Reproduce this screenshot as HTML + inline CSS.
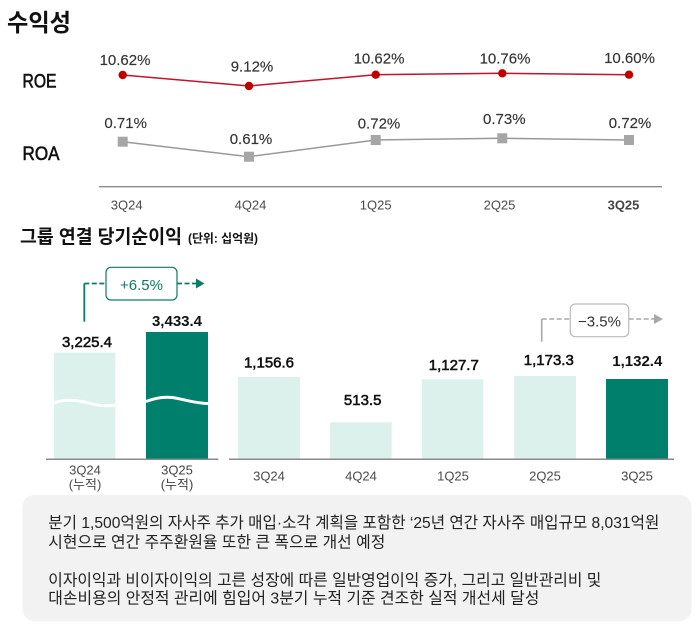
<!DOCTYPE html>
<html><head><meta charset="utf-8"><style>
html,body{margin:0;padding:0;background:#fff;}
svg{display:block;}
text{font-family:"Liberation Sans","Noto Sans CJK KR",sans-serif;}
</style></head><body>
<svg width="696" height="629" viewBox="0 0 696 629" xmlns="http://www.w3.org/2000/svg">
<rect width="696" height="629" fill="#fff"/>
<!-- Title -->
<text x="7" y="31" font-size="24" font-weight="bold" fill="#111" textLength="64" lengthAdjust="spacingAndGlyphs">수익성</text>

<text x="22.5" y="87.3" font-size="19" fill="#111" stroke="#111" stroke-width="0.6" textLength="34" lengthAdjust="spacingAndGlyphs">ROE</text>
<text x="22.5" y="160" font-size="19" fill="#111" stroke="#111" stroke-width="0.6" textLength="37" lengthAdjust="spacingAndGlyphs">ROA</text>

<!-- ROE line -->
<polyline points="122.7,75 249,86 375.7,74.7 502.3,73.3 629,74.7" fill="none" stroke="#c3112e" stroke-width="1.5"/>
<g fill="#c00000">
<circle cx="122.7" cy="75" r="4.2"/><circle cx="249" cy="86" r="4.2"/><circle cx="375.7" cy="74.7" r="4.2"/><circle cx="502.3" cy="73.3" r="4.2"/><circle cx="629" cy="74.7" r="4.2"/>
</g>
<g font-size="15" fill="#333" stroke="#333" stroke-width="0.15" text-anchor="middle">
<text x="125" y="65">10.62%</text>
<text x="252" y="71.7">9.12%</text>
<text x="379" y="63.3">10.62%</text>
<text x="505" y="63.3">10.76%</text>
<text x="629.5" y="63">10.60%</text>
</g>

<!-- ROA line -->
<polyline points="122.7,141.7 249,156.7 375.7,140 502.3,138.3 629,140" fill="none" stroke="#999" stroke-width="1.5"/>
<g fill="#a6a6a6">
<rect x="117.7" y="136.7" width="10" height="10"/><rect x="244" y="151.7" width="10" height="10"/><rect x="370.7" y="135" width="10" height="10"/><rect x="497.3" y="133.3" width="10" height="10"/><rect x="624" y="135" width="10" height="10"/>
</g>
<g font-size="15" fill="#333" stroke="#333" stroke-width="0.15" text-anchor="middle">
<text x="125.7" y="128">0.71%</text>
<text x="251" y="144">0.61%</text>
<text x="379" y="128.3">0.72%</text>
<text x="504.3" y="124">0.73%</text>
<text x="630" y="128">0.72%</text>
</g>

<line x1="99" y1="186.7" x2="662" y2="186.7" stroke="#8a8a8a" stroke-width="1.3"/>
<g font-size="13" fill="#4a4a4a" text-anchor="middle">
<text x="126.7" y="209.5">3Q24</text>
<text x="250.5" y="209.5">4Q24</text>
<text x="375.7" y="209.5">1Q25</text>
<text x="499.5" y="209.5">2Q25</text>
<text x="623.5" y="209.5" font-weight="bold" fill="#444">3Q25</text>
</g>

<!-- Bottom title -->
<text x="20" y="243" font-size="19" font-weight="bold" fill="#111" textLength="162" lengthAdjust="spacingAndGlyphs">그룹 연결 당기순이익</text>
<text x="188" y="242.5" font-size="12" font-weight="bold" fill="#111" textLength="70" lengthAdjust="spacingAndGlyphs">(단위: 십억원)</text>

<!-- Left bars -->
<rect x="54" y="352.7" width="61.3" height="106.3" fill="#dcf0ec"/>
<rect x="146" y="332" width="62" height="127" fill="#007f6c"/>
<path d="M54,403 C62,400 72,399.5 82,401.5 S102,407.5 115.3,405" fill="none" stroke="#fff" stroke-width="3"/>
<path d="M146,401.5 C155,398 163,396.5 172,397.5 S195,403.5 208,403.5" fill="none" stroke="#fff" stroke-width="3"/>
<line x1="46" y1="459.3" x2="218.3" y2="459.3" stroke="#8a8a8a" stroke-width="1.5"/>
<text x="87" y="347" font-size="15" fill="#111" stroke="#111" stroke-width="0.55" text-anchor="middle">3,225.4</text>
<text x="177" y="326" font-size="15" font-weight="bold" fill="#111" text-anchor="middle">3,433.4</text>
<g font-size="13" fill="#4a4a4a" text-anchor="middle">
<text x="85" y="474.5">3Q24</text>
<text x="85" y="489">(누적)</text>
<text x="177" y="474.5" fill="#444">3Q25</text>
<text x="177" y="489" fill="#444">(누적)</text>
</g>

<!-- +6.5% arrow -->
<g stroke="#107a66" fill="none" stroke-width="1.8">
<line x1="84.3" y1="321.7" x2="84.3" y2="283.5"/>
<line x1="84.3" y1="283.5" x2="106" y2="283.5" stroke-dasharray="5,2.5"/>
<line x1="177" y1="283.5" x2="197" y2="283.5" stroke-dasharray="5,2.5"/>
<rect x="106" y="267.3" width="71" height="32.7" rx="5" fill="#fff" stroke-width="1.2"/>
</g>
<polygon points="196,278.5 204.5,283.5 196,288.5" fill="#107a66"/>
<text x="141.5" y="290" font-size="15" fill="#107a66" text-anchor="middle">+6.5%</text>

<!-- Right bars -->
<rect x="238" y="377" width="62" height="82.3" fill="#dcf0ec"/>
<rect x="330" y="422.3" width="61.7" height="37" fill="#dcf0ec"/>
<rect x="422" y="379.3" width="61.3" height="80" fill="#dcf0ec"/>
<rect x="514.3" y="376" width="61.7" height="83.3" fill="#dcf0ec"/>
<rect x="606" y="379" width="62" height="80.3" fill="#007f6c"/>
<line x1="229" y1="459.3" x2="674" y2="459.3" stroke="#8a8a8a" stroke-width="1.5"/>
<g font-size="15" fill="#111" stroke="#111" stroke-width="0.55" text-anchor="middle">
<text x="269" y="367.3">1,156.6</text>
<text x="362.7" y="405">513.5</text>
<text x="453.8" y="370">1,127.7</text>
<text x="548.8" y="365">1,173.3</text>
</g>
<text x="637.3" y="366" font-size="15" font-weight="bold" fill="#111" text-anchor="middle">1,132.4</text>
<g font-size="13" fill="#4a4a4a" text-anchor="middle">
<text x="269" y="480.5">3Q24</text>
<text x="361" y="480.5">4Q24</text>
<text x="453" y="480.5">1Q25</text>
<text x="545" y="480.5">2Q25</text>
<text x="637" y="480.5" fill="#444">3Q25</text>
</g>

<!-- -3.5% arrow -->
<g stroke="#a8a8a8" fill="none" stroke-width="1.6">
<line x1="541.7" y1="341.7" x2="541.7" y2="319"/>
<line x1="541.7" y1="319" x2="570.3" y2="319" stroke-dasharray="5,2.5"/>
<line x1="628.7" y1="319" x2="655" y2="319" stroke-dasharray="5,2.5"/>
<rect x="570.3" y="304" width="58.4" height="32.7" rx="5" fill="#fff" stroke="#bbb" stroke-width="1.2"/>
</g>
<polygon points="654,314 663,319 654,324" fill="#a8a8a8"/>
<text x="599.5" y="326.7" font-size="15" fill="#333" text-anchor="middle">−3.5%</text>

<!-- Text box -->
<rect x="22.5" y="495" width="669" height="126" rx="12" fill="#f2f2f2"/>
<g font-size="16" fill="#222">
<text x="48.3" y="528" textLength="611" lengthAdjust="spacingAndGlyphs">분기 1,500억원의 자사주 추가 매입·소각 계획을 포함한 ‘25년 연간 자사주 매입규모 8,031억원</text>
<text x="48.3" y="547.5" textLength="337" lengthAdjust="spacingAndGlyphs">시현으로 연간 주주환원율 또한 큰 폭으로 개선 예정</text>
<text x="48.3" y="585.3" textLength="553" lengthAdjust="spacingAndGlyphs">이자이익과 비이자이익의 고른 성장에 따른 일반영업이익 증가, 그리고 일반관리비 및</text>
<text x="48.3" y="603.5" textLength="491" lengthAdjust="spacingAndGlyphs">대손비용의 안정적 관리에 힘입어 3분기 누적 기준 견조한 실적 개선세 달성</text>
</g>
</svg>
</body></html>
